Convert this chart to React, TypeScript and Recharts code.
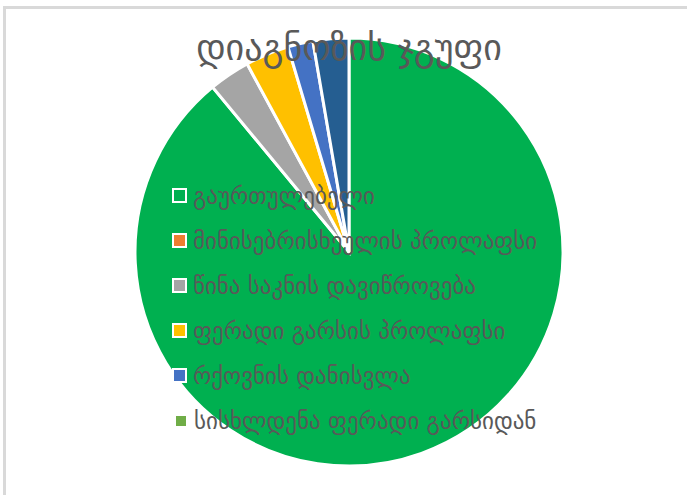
import { PieChart, Pie, Cell } from 'recharts'

const categories = [
    'გაურთულებელი',
    'მინისებრისხეულის პროლაფსი',
    'წინა საკნის დავიწროვება',
    'ფერადი გარსის პროლაფსი',
    'რქოვნის დანისვლა',
    'სისხლდენა ფერადი გარსიდან',
]
const shares = [89.0, 0, 3.1, 3.3, 1.9, 2.7]
const sliceColors = ['#00B050', '#ED7D31', '#A5A5A5', '#FFC000', '#4472C4', '#255E91']
const markerColors = ['#00B050', '#ED7D31', '#A5A5A5', '#FFC000', '#4472C4', '#70AD47']

const title = 'დიაგნოზის ჯგუფი'
const data = categories.map((name, i) => ({ name, value: shares[i] }))

const FONT = '"DejaVu Sans", sans-serif'

const LegendList = () => (
    <div style={{ display: 'flex', flexDirection: 'column' }}>
        {categories.map((name, i) => (
            <div key={name} style={{ display: 'flex', alignItems: 'center', height: 45 }}>
                <span
                    style={{
                        display: 'inline-block',
                        width: i === 5 ? 10 : 11,
                        height: i === 5 ? 10 : 11,
                        background: markerColors[i],
                        border: i === 5 ? 'none' : '2px solid #fff',
                        marginRight: i === 5 ? 8 : 6,
                        marginLeft: i === 5 ? 4 : 0,
                    }}
                />
                <span style={{ color: '#595959', fontSize: 23, fontFamily: FONT, whiteSpace: 'nowrap' }}>{name}</span>
            </div>
        ))}
    </div>
)

export default function App() {
    return (
        <div style={{ position: 'absolute', left: 0, top: 0, width: 687, height: 495, background: '#fff', overflow: 'hidden' }}>
            <div
                style={{
                    position: 'absolute',
                    left: 3,
                    top: 6,
                    width: 720,
                    height: 520,
                    border: '3px solid #D9D9D9',
                }}
            />
            <div style={{ position: 'absolute', left: 0, top: 0 }}>
                <PieChart width={687} height={495} margin={{ top: 0, right: 0, bottom: 0, left: 0 }}>
                    <Pie
                        data={data}
                        dataKey="value"
                        nameKey="name"
                        cx={349}
                        cy={252}
                        outerRadius={214}
                        startAngle={90}
                        endAngle={-270}
                        stroke="#fff"
                        strokeWidth={3}
                        isAnimationActive={false}
                    >
                        {data.map((_, i) => (
                            <Cell key={i} fill={sliceColors[i]} />
                        ))}
                    </Pie>
                </PieChart>
            </div>
            <div style={{ position: 'absolute', left: 172, top: 173 }}>
                <LegendList />
            </div>
            <div
                style={{
                    position: 'absolute',
                    left: 0,
                    width: 698,
                    top: 27,
                    textAlign: 'center',
                    color: '#595959',
                    fontSize: 36,
                    fontFamily: FONT,
                    pointerEvents: 'none',
                }}
            >
                {title}
            </div>
        </div>
    )
}
